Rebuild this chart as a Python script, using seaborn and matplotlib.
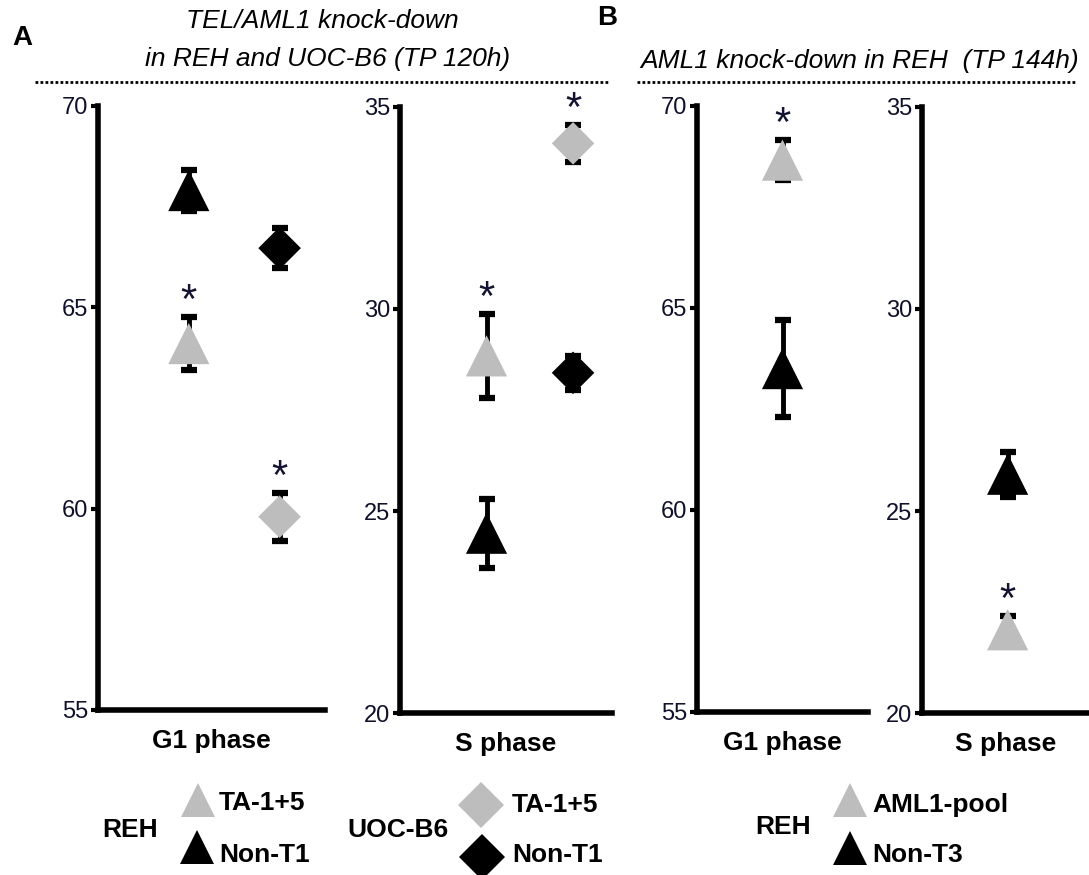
import matplotlib
matplotlib.use("Agg")
import matplotlib.pyplot as plt
import seaborn as sns
import pandas as pd
import numpy as np

# ---------------- data ----------------
cells_A = ["REH", "REH", "UOC-B6", "UOC-B6"]
treat_A = ["TA-1+5", "Non-T1", "TA-1+5", "Non-T1"]
A_g1_mean = [64.1, 67.9, 59.8, 66.47]
A_g1_err = [0.65, 0.5, 0.6, 0.5]
A_s_mean = [28.84, 24.45, 34.1, 28.42]
A_s_err = [1.04, 0.85, 0.45, 0.42]
A_signif = [True, False, True, False]

cells_B = ["REH", "REH"]
treat_B = ["AML1-pool", "Non-T3"]
B_g1_mean = [68.66, 63.5]
B_g1_err = [0.5, 1.2]
B_s_mean = [22.06, 25.91]
B_s_err = [0.35, 0.56]
B_signif = [True, False]

g1_ticks = [55, 60, 65, 70]
s_ticks = [20, 25, 30, 35]

# ---------------- style ----------------
sns.set_theme(style="ticks")
plt.rcParams["font.family"] = ["Liberation Sans", "DejaVu Sans"]
plt.rcParams["text.color"] = "black"
plt.rcParams["axes.labelcolor"] = "black"
plt.rcParams["ytick.color"] = "black"
NARROW = ["Liberation Sans Narrow", "Liberation Sans", "DejaVu Sans"]
GRAY = "#bdbdbd"
BLACK = "#000000"
palette = {"TA-1+5": GRAY, "Non-T1": BLACK, "AML1-pool": GRAY, "Non-T3": BLACK}
markers = {"REH": "^", "UOC-B6": "D"}
sizes = {"REH": 880, "UOC-B6": 470}

W, H = 1089, 875
fig = plt.figure(figsize=(W / 100, H / 100), dpi=100)


def px_axes(l, r, t, b):
    return fig.add_axes([l / W, 1 - b / H, (r - l) / W, (b - t) / H])


def panel(ax, cells, treats, means, errs, signif, ylim, yticks, xlim, label):
    cell_order = list(dict.fromkeys(cells))
    df = pd.DataFrame({
        "cell": cells,
        "treat": treats,
        "x": [cell_order.index(c) for c in cells],
        "mean": means,
        "err": errs,
    })
    ax.errorbar(df["x"], df["mean"], yerr=df["err"], fmt="none", ecolor="black",
                elinewidth=3.5, capsize=6, capthick=4.5, zorder=2, clip_on=False)
    sns.scatterplot(data=df, x="x", y="mean", hue="treat", style="cell", size="cell",
                    palette=palette, markers=markers, sizes=sizes,
                    linewidth=0, legend=False, ax=ax, zorder=3, clip_on=False)
    for _, r in df[signif].iterrows():
        ax.text(r["x"], r["mean"] + r["err"] + 0.1, "*", ha="center", va="baseline",
                fontsize=30, color="#141432", clip_on=False)
    ax.set_xlim(*xlim)
    ax.set_ylim(*ylim)
    ax.set_yticks(yticks)
    ax.set_yticklabels([str(t) for t in yticks], family=NARROW, fontsize=17, color="#10102a")
    ax.set_xticks([])
    ax.set_ylabel("")
    ax.set_xlabel(label, fontsize=19, fontweight="bold", labelpad=14, color="black")
    sns.despine(ax=ax)
    for s in ["left", "bottom"]:
        ax.spines[s].set_linewidth(4)
        ax.spines[s].set_color("black")
    ax.tick_params(axis="y", direction="out", length=5, width=3, pad=2)
    ax.patch.set_alpha(0)


axA1 = px_axes(98, 325, 106, 710)
axA2 = px_axes(400, 612, 107, 713)
axB1 = px_axes(697, 868, 106, 712)
axB2 = px_axes(922, 1089, 107, 713)

panel(axA1, cells_A, treat_A, A_g1_mean, A_g1_err, A_signif, (55, 70), g1_ticks, (-1.0, 1.5), "G1 phase")
panel(axA2, cells_A, treat_A, A_s_mean, A_s_err, A_signif, (20, 35), s_ticks, (-1.0, 1.45), "S phase")
panel(axB1, cells_B, treat_B, B_g1_mean, B_g1_err, B_signif, (55, 70), g1_ticks, (-1.0, 1.0), "G1 phase")
panel(axB2, cells_B, treat_B, B_s_mean, B_s_err, B_signif, (20, 35), s_ticks, (-1.0, 0.95), "S phase")

# ---------------- overlay: titles, dotted rules, legends ----------------
ov = fig.add_axes([0, 0, 1, 1], zorder=-1)
ov.set_xlim(0, W)
ov.set_ylim(H, 0)
ov.axis("off")

ov.text(22, 38, "A", fontsize=20, fontweight="bold", ha="center", va="center")
ov.text(607, 18, "B", fontsize=20, fontweight="bold", ha="center", va="center")

ov.text(322, 21, "TEL/AML1 knock-down", fontsize=19, style="italic", ha="center", va="center")
ov.text(328, 59, "in REH and UOC-B6 (TP 120h)", fontsize=19, style="italic", ha="center", va="center")
ov.text(860, 61, "AML1 knock-down in REH  (TP 144h)", fontsize=19, style="italic", ha="center", va="center")
ov.plot([35, 610], [82, 82], color="black", lw=2, linestyle=(0, (1, 0.8)))
ov.plot([637, 1075], [82, 82], color="black", lw=2, linestyle=(0, (1, 0.8)))

leg_font = dict(fontsize=19, fontweight="bold", va="center")
# A - REH
ov.text(130, 830, "REH", ha="center", **leg_font)
ov.plot(198, 800, marker="^", ms=24, color=GRAY, mew=0)
ov.plot(197, 847, marker="^", ms=24, color=BLACK, mew=0)
ov.text(219, 803, "TA-1+5", ha="left", **leg_font)
ov.text(219, 855, "Non-T1", ha="left", **leg_font)
# A - UOC-B6
ov.text(398, 830, "UOC-B6", ha="center", **leg_font)
ov.plot(481, 805, marker="D", ms=23, color=GRAY, mew=0)
ov.plot(482, 857, marker="D", ms=23, color=BLACK, mew=0)
ov.text(512, 805, "TA-1+5", ha="left", **leg_font)
ov.text(512, 855, "Non-T1", ha="left", **leg_font)
# B - REH
ov.text(783, 827, "REH", ha="center", **leg_font)
ov.plot(850, 800, marker="^", ms=24, color=GRAY, mew=0)
ov.plot(850, 848, marker="^", ms=24, color=BLACK, mew=0)
ov.text(872, 805, "AML1-pool", ha="left", **leg_font)
ov.text(872, 855, "Non-T3", ha="left", **leg_font)

fig.savefig("out.png", dpi=100)
